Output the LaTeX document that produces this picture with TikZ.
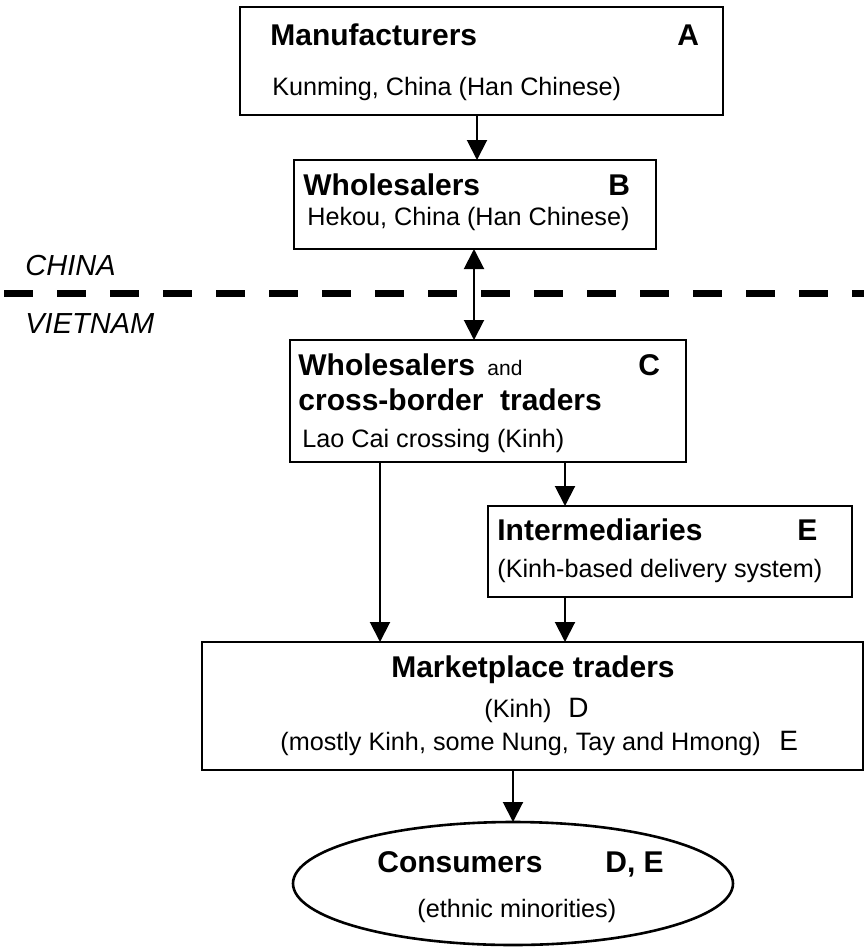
\documentclass[tikz,border=0pt]{standalone}
\usepackage{fontspec}
\setmainfont{Liberation Sans}
\usetikzlibrary{arrows.meta,shapes.geometric}
\begin{document}
\begin{tikzpicture}[x=0.5pt,y=-0.5pt,
 box/.style={draw, line width=1.3pt, inner sep=0pt, outer sep=0pt},
 arr/.style={line width=1pt, -{Triangle[length=10pt,width=10pt]}},
 darr/.style={line width=1pt, {Triangle[length=10pt,width=10pt]}-{Triangle[length=10pt,width=10pt]}},
 ttl/.style={anchor=base west, inner sep=0pt, font=\fontsize{15pt}{18pt}\selectfont\bfseries},
 sub/.style={anchor=base west, inner sep=0pt, font=\fontsize{12.6pt}{15pt}\selectfont},
 big/.style={anchor=base west, inner sep=0pt, font=\fontsize{14pt}{16pt}\selectfont},
 small/.style={anchor=base west, inner sep=0pt, font=\fontsize{10.5pt}{12pt}\selectfont},
 ctry/.style={anchor=base west, inner sep=0pt, font=\fontsize{14.5pt}{17pt}\selectfont\itshape},
 border/.style={line width=3.5pt, dash pattern=on 14.5pt off 12pt}
]
\path[use as bounding box, fill=white] (0,0) rectangle (864,948);

% boxes
\node[box, minimum width=241.5pt, minimum height=54pt] (A) at (481.5,61) {};
\node[box, minimum width=181pt, minimum height=44.5pt] (B) at (475,204.5) {};
\node[box, minimum width=198pt, minimum height=61pt] (C) at (488,401) {};
\node[box, minimum width=182pt, minimum height=45.5pt] (E) at (670,551.5) {};
\node[box, minimum width=330.5pt, minimum height=64pt] (D) at (532.5,706) {};
\node[box, ellipse, minimum width=220pt, minimum height=61.5pt] (F) at (513,883.5) {};

% texts
\node[ttl] (tA) at (270,45) {Manufacturers};
\node[ttl] (lA) at (677,45) {A};
\node[sub] (sA) at (272,95) {Kunming, China (Han Chinese)};
\node[ttl] (tB) at (303,195) {Wholesalers};
\node[ttl] (lB) at (608,195) {B};
\node[sub] (sB) at (307,225) {Hekou, China (Han Chinese)};
\node[ttl] (tC) at (298,375) {Wholesalers};
\node[small] (aC) at (487,375) {and};
\node[ttl] (lC) at (638,375) {C};
\node[ttl] (tC2) at (298,410) {cross-border\ \ traders};
\node[sub] (sC) at (302,447) {Lao Cai crossing (Kinh)};
\node[ttl] (tE) at (497,540) {Intermediaries};
\node[ttl] (lE) at (797,540) {E};
\node[sub] (sE) at (497,577) {(Kinh-based delivery system)};
\node[ttl, anchor=base] (tD) at (533,677) {Marketplace traders};
\node[sub] (sD1) at (484,717) {(Kinh)};
\node[big] (lD1) at (568,717) {D};
\node[sub] (sD2) at (280,750) {(mostly Kinh, some Nung, Tay and Hmong)};
\node[big] (lD2) at (779,750) {E};
\node[ttl] (tF) at (377,872) {Consumers};
\node[ttl] (lF) at (605,872) {D, E};
\node[sub] (sF) at (417,917) {(ethnic minorities)};
\node[ctry] (cn) at (25,275) {CHINA};
\node[ctry] (vn) at (25,333) {VIETNAM};

% border
\coordinate (bl) at (4,293);
\coordinate (br) at (864,293);
\draw[border] (bl) -- (br);

% connectors
\coordinate (xab) at (477,0);
\coordinate (xbc) at (474,0);
\coordinate (xcd) at (380,0);
\coordinate (xce) at (565,0);
\draw[arr] (A.south -| xab) -- (B.north -| xab);
\draw[darr] (B.south -| xbc) -- (C.north -| xbc);
\draw[arr] (C.south -| xcd) -- (D.north -| xcd);
\draw[arr] (C.south -| xce) -- (E.north -| xce);
\draw[arr] (E.south -| xce) -- (D.north -| xce);
\draw[arr] (D.south -| F.north) -- (F.north);
\end{tikzpicture}
\end{document}
